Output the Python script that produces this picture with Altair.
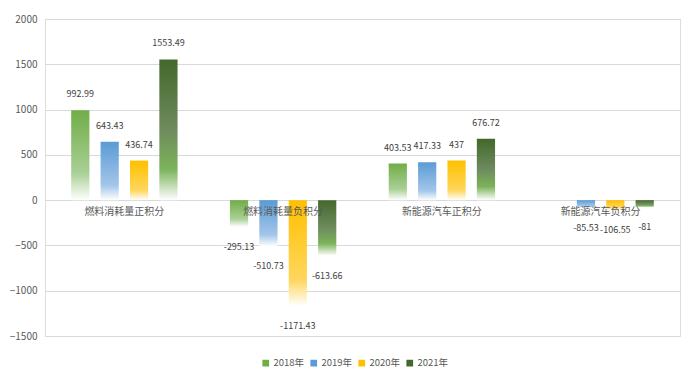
import altair as alt
import pandas as pd

categories = ["燃料消耗量正积分", "燃料消耗量负积分", "新能源汽车正积分", "新能源汽车负积分"]
years = ["2018年", "2019年", "2020年", "2021年"]
v2018 = [992.99, -295.13, 403.53, None]
v2019 = [643.43, -510.73, 417.33, -85.53]
v2020 = [436.74, -1171.43, 437, -106.55]
v2021 = [1553.49, -613.66, 676.72, -81]
series = {"2018年": v2018, "2019年": v2019, "2020年": v2020, "2021年": v2021}
colors = ["#70ad47", "#5b9bd5", "#ffc000", "#43682b"]
y_ticks = [-1500, -1000, -500, 0, 500, 1000, 1500, 2000]

gradients = {
    "2018年": [("#70ad47", 0), ("#a9d095", 0.7), ("#ffffff", 1)],
    "2019年": [("#5b9bd5", 0), ("#a3c6ea", 0.75), ("#ffffff", 1)],
    "2020年": [("#ffc000", 0), ("#ffd65c", 0.75), ("#ffffff", 1)],
    "2021年": [("#43682b", 0), ("#6e8b5e", 0.5), ("#7cb35a", 0.78), ("#ffffff", 1)],
}

rows = []
for y in years:
    for c, v in zip(categories, series[y]):
        if v is None:
            continue
        rows.append({"cat": c, "year": y, "value": v, "label": f"{v:g}"})
df = pd.DataFrame(rows)
cat_df = pd.DataFrame({"cat": categories})

FONT = "Noto Sans CJK SC"

x_enc = alt.X("cat:N", sort=categories, axis=None,
              scale=alt.Scale(domain=categories, paddingInner=0.33, paddingOuter=0.165))
xo_enc = alt.XOffset("year:N", sort=years,
                     scale=alt.Scale(domain=years, paddingInner=0.38, paddingOuter=0))
y_enc = alt.Y("value:Q",
              scale=alt.Scale(domain=[-1500, 2000], nice=False),
              axis=alt.Axis(values=y_ticks, grid=True, gridColor="#d9d9d9", domain=False,
                            ticks=False, labelColor="#595959", labelFontSize=10,
                            labelPadding=8, title=None, format="d", labelFont=FONT))

base = alt.Chart(df)

layers = []
for y in years:
    stops = [alt.GradientStop(color=c, offset=o) for c, o in gradients[y]]
    grad = alt.LinearGradient(gradient="linear", x1=0, y1=0, x2=0, y2=1, stops=stops)
    layers.append(
        base.transform_filter(alt.datum.year == y)
        .mark_bar(fill=grad)
        .encode(x=x_enc, xOffset=xo_enc, y=y_enc)
    )

legend_layer = base.mark_bar().encode(
    x=x_enc, xOffset=xo_enc, y=alt.datum(0),
    color=alt.Color("year:N", sort=years, scale=alt.Scale(domain=years, range=colors),
                    legend=alt.Legend(title=None, orient="none", direction="horizontal",
                                      legendX=216, legendY=339, symbolType="square",
                                      symbolSize=45, labelFontSize=9.5, labelColor="#595959",
                                      labelFont=FONT, columnPadding=4, labelOffset=3,
                                      symbolOpacity=1)),
)

pos_labels = base.transform_filter(alt.datum.value >= 0).mark_text(
    baseline="bottom", dy=-11, fontSize=9, color="#404040", font=FONT
).encode(x=x_enc, xOffset=xo_enc, y="value:Q", text="label:N")

neg_labels = base.transform_filter(alt.datum.value < 0).mark_text(
    baseline="top", dy=16, fontSize=9, color="#404040", font=FONT
).encode(x=x_enc, xOffset=xo_enc, y="value:Q", text="label:N")

cat_labels = alt.Chart(cat_df).mark_text(
    baseline="middle", dy=12, fontSize=10, color="#595959", font=FONT
).encode(x=x_enc, y=alt.datum(0), text="cat:N")

chart = alt.layer(*layers, legend_layer, pos_labels, neg_labels, cat_labels).properties(
    width=635, height=317,
    autosize=alt.AutoSizeParams(type="none"),
    padding={"left": 37, "top": 11, "right": 6, "bottom": 40},
).configure_view(stroke=None).configure(background="white")

chart.save("out.html", embed_options={"renderer": "svg", "actions": False})
